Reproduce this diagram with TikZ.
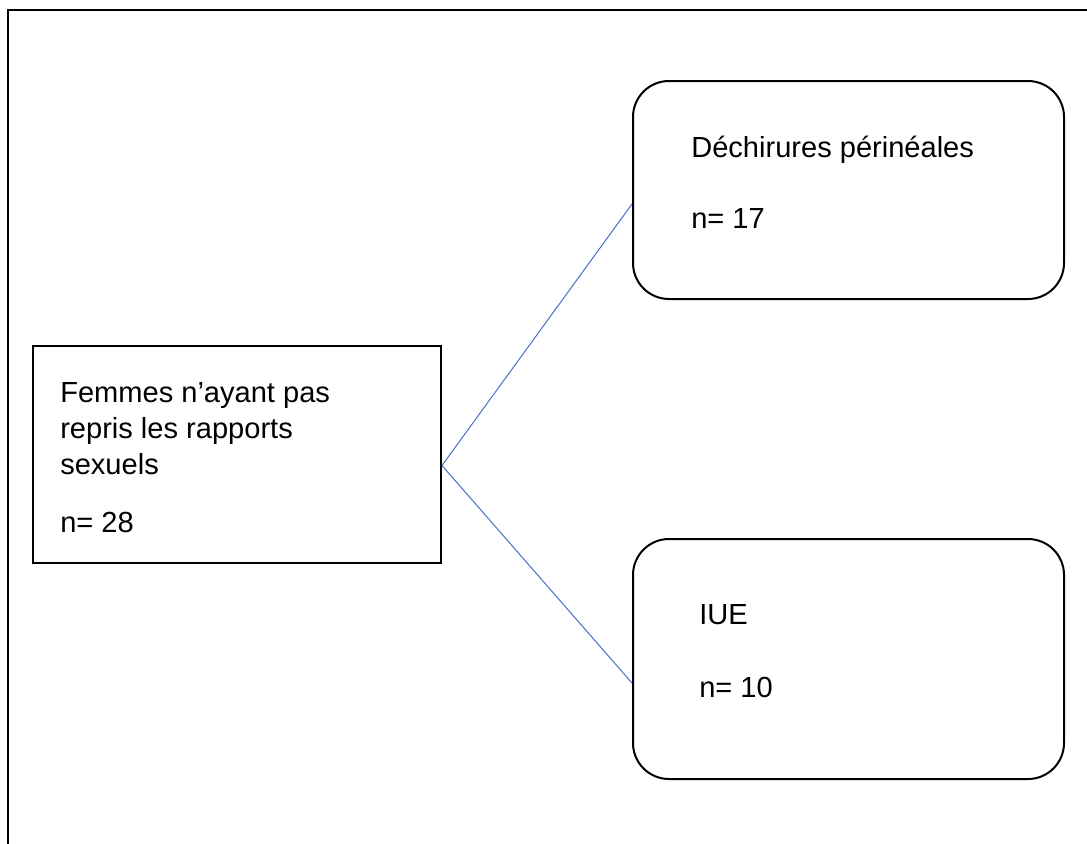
\documentclass[tikz,border=0pt]{standalone}
\usepackage{fontspec}
\setmainfont{Liberation Sans}
\usepackage{xcolor}
\usepackage{tikz}
\usetikzlibrary{positioning,calc}
\definecolor{lienbleu}{RGB}{68,114,196}

\begin{document}
\begin{tikzpicture}[
    x=0.75pt, y=-0.75pt,
    cadre/.style={line width=1.5pt, line cap=rect},
    boite/.style={draw, line width=1.5pt, anchor=north west, inner sep=0pt},
    arrondie/.style={boite, rounded corners=27pt},
    texte/.style={anchor=base west, inner sep=0pt, align=left, font=\fontsize{21.8}{27}\selectfont},
    lien/.style={draw=lienbleu, line width=0.75pt}
]
    \useasboundingbox (0,0) rectangle (1087,843);
    \draw[cadre] (8,843) -- (8,10) -- (1090,10);

    % boites
    \node[boite, minimum width=306pt, minimum height=162.75pt] (femmes) at (32,345) {};
    \node[arrondie, minimum width=323.25pt, minimum height=163.5pt] (dechir) at (632,80) {};
    \node[arrondie, minimum width=323.25pt, minimum height=180pt] (iue) at (632,538) {};

    % textes
    \node[texte] (femmes-t) at (60,474) {Femmes n’ayant pas\\repris les rapports\\sexuels};
    \node[texte] (femmes-n) at (60,532) {n= 28};
    \node[texte] (dechir-t) at (691,157) {Déchirures périnéales};
    \node[texte] (dechir-n) at (691,228) {n= 17};
    \node[texte] (iue-t) at (699,624) {IUE};
    \node[texte] (iue-n) at (699,697) {n= 10};

    % liens
    \draw[lien] ($(femmes.east)+(0,11)$) -- ($(dechir.west)+(0,14)$);
    \draw[lien] ($(femmes.east)+(0,11)$) -- ($(iue.west)+(0,24)$);
\end{tikzpicture}
\end{document}
